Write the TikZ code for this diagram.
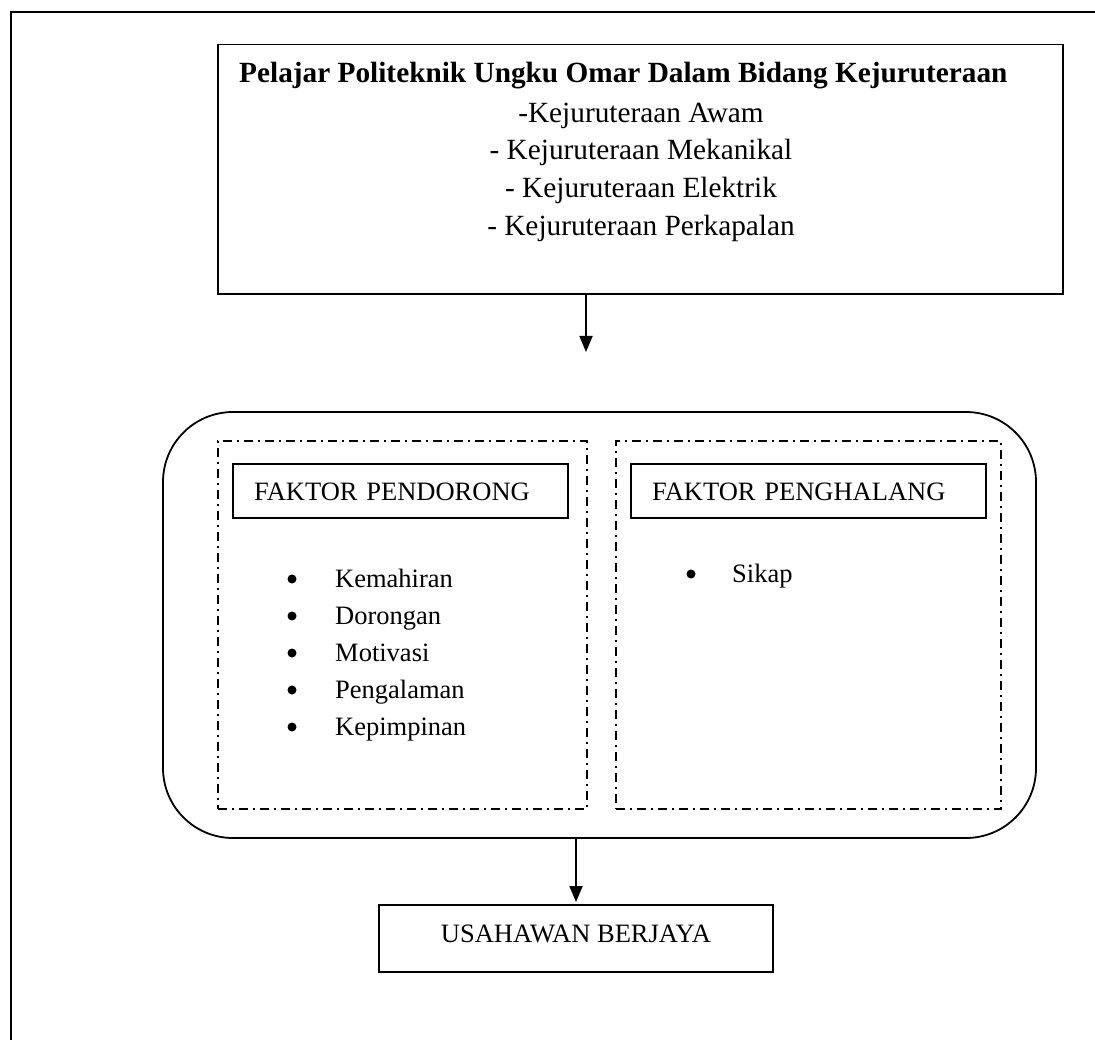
\documentclass[tikz,border=0pt]{standalone}
\usepackage{fontspec}
\setmainfont{Liberation Serif}
\usetikzlibrary{arrows.meta}

\begin{document}
\begin{tikzpicture}[line cap=butt,line join=miter,>={Triangle[length=16pt,width=13pt]},x=1pt,y=-1pt,
  every node/.style={font=\fontsize{26.5}{37}\selectfont},
  big/.style={font=\fontsize{29.3}{37.7}\selectfont},
  txt/.style={inner xsep=0pt},
  frame/.style={draw,line width=1.8pt},
  dashbox/.style={draw,line width=1.6pt,dash pattern=on 9pt off 5pt on 2pt off 5pt},
  tag/.style={frame,minimum height=54pt,inner xsep=21pt,align=left,text height=17.5pt,text depth=0pt},
  dot/.style={circle,fill,inner sep=0pt,minimum size=9pt}]
\useasboundingbox (0,0) rectangle (1095,1040);
\draw [frame] (11,1040)--(11,12)--(1095,12);
% kotak pelajar
\node [frame,minimum width=845pt,minimum height=249.5pt] (prog) at (640.5,169.25) {};
\node [big,txt,anchor=base west,font=\fontsize{29.3}{37.7}\selectfont\bfseries] (title) at (239,83) {Pelajar Politeknik Ungku Omar Dalam Bidang Kejuruteraan};
\foreach \bidang [count=\i] in {-Kejuruteraan Awam,- Kejuruteraan Mekanikal,- Kejuruteraan Elektrik,- Kejuruteraan Perkapalan}
  \node [big,txt,anchor=base] (k\i) at (641,84.5+37.7*\i) {\bidang};
\coordinate (tip1) at (586,352);
\draw [->,line width=1.8pt] (prog.south -| tip1)--(tip1);
% kotak faktor
\node [frame,rounded corners=70pt,minimum width=873pt,minimum height=426pt] (faktor) at (599.5,625) {};
\node [dashbox,minimum width=369pt,minimum height=368pt] (dorong) at (402.5,625) {};
\node [dashbox,minimum width=385pt,minimum height=368pt] (halang) at (808.5,625) {};
\node [tag,text width=293pt] (tagL) at (400.5,491.25) {FAKTOR PENDORONG};
\node [tag,text width=313pt] (tagR) at (808.5,491.25) {FAKTOR PENGHALANG};
\foreach \sebab [count=\i] in {Kemahiran,Dorongan,Motivasi,Pengalaman,Kepimpinan}{
  \node [dot] (b\i) at (292,542+37*\i) {};
  \node [txt,anchor=base west] (s\i) at (335,550+37*\i) {\sebab};
}
\node [dot] (b6) at (691,574) {};
\node [txt,anchor=base west] (s6) at (732,582) {Sikap};
% kotak akhir
\node [frame,minimum width=394pt,minimum height=67pt,text height=17.5pt,text depth=10.5pt] (usaha) at (576,938.5) {USAHAWAN BERJAYA};
\coordinate (tip2) at (576,902);
\draw [->,line width=1.8pt] (faktor.south -| tip2)--(tip2);
\end{tikzpicture}
\end{document}
